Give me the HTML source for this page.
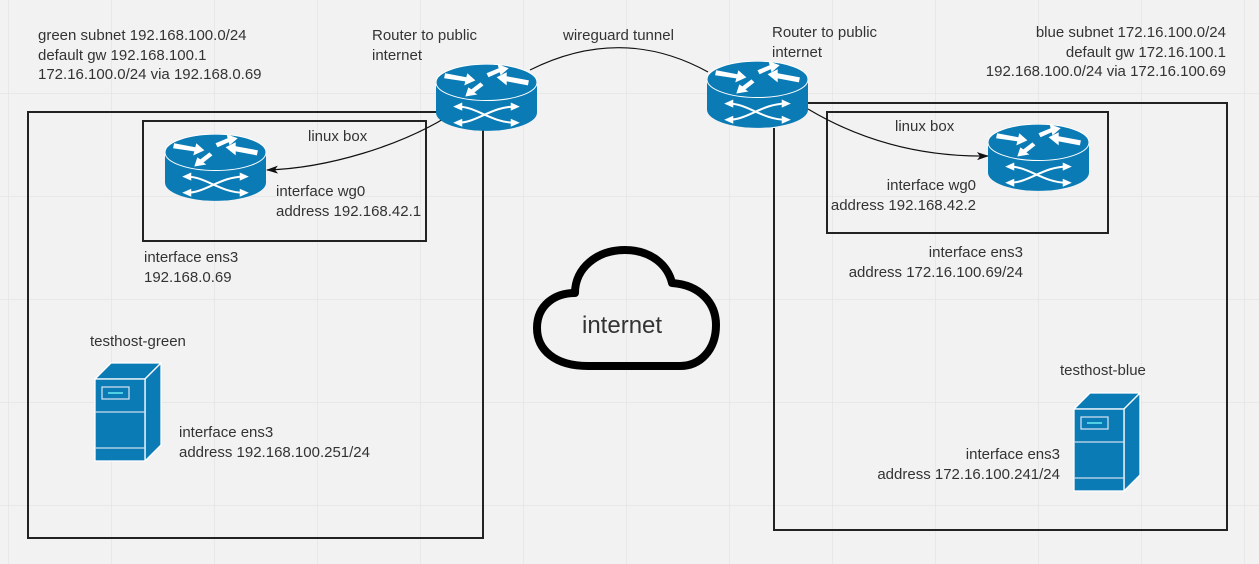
<!DOCTYPE html>
<html><head><meta charset="utf-8"><style>
html,body{margin:0;padding:0}
body{width:1259px;height:564px;overflow:hidden;background:#f2f2f2;position:relative;font-family:"Liberation Sans",sans-serif;color:#333;font-size:15px}
.t{position:absolute;line-height:19.5px;white-space:nowrap}
.r{text-align:right}
svg{position:absolute;left:0;top:0}
</style></head><body>
<svg width="1259" height="564" viewBox="0 0 1259 564">
<defs>
<pattern id="grid" x="8" y="-10" width="103" height="103" patternUnits="userSpaceOnUse">
<path d="M0 0V103M0 0H103" stroke="#e4e4e4" stroke-width="1.5" fill="none"/>
</pattern>
<symbol id="router" viewBox="0 0 100 66">
<path d="M0 18V48A50 18 0 0 0 100 48V18Z" fill="#0a7bb5"/>
<ellipse cx="50" cy="18" rx="50" ry="18" fill="#0a7bb5" stroke="#fff" stroke-width="1"/>
<g fill="#fff">
<path d="M9 9L30 13L31 9L39 16L28 21L29 17L8 14Z"/>
<path d="M50 9L62 4L61 0L72 4L64 11L63 8L52 13Z"/>
<path d="M91 21L70 17L70 21L60 13L70 8L70 12L92 16Z"/>
<path d="M47 21L38 28L41 30L29 32L32 23L35 25L44 18Z"/>
</g>
<g stroke="#fff" stroke-width="2" fill="none">
<path d="M22 42C40 42 55 58 78 58M22 58C40 58 55 42 78 42"/>
</g>
<g fill="#fff">
<path d="M17 42L26 38V46Z"/><path d="M83 42L74 38V46Z"/>
<path d="M17 58L26 54V62Z"/><path d="M83 58L74 54V62Z"/>
</g>
</symbol>
<symbol id="server" viewBox="0 0 68 100">
<path d="M1 17L17 1H67L51 17Z" fill="#0a7bb5" stroke="#fff" stroke-width="1.3"/>
<path d="M51 17L67 1V83L51 99Z" fill="#0a7bb5" stroke="#fff" stroke-width="1.3"/>
<rect x="1" y="17" width="50" height="82" fill="#0a7bb5" stroke="#fff" stroke-width="1.3"/>
<rect x="8" y="25" width="27" height="12" fill="none" stroke="#cde" stroke-width="1.3"/>
<path d="M14 31H29" stroke="#7ff" stroke-width="1.3"/>
<path d="M1 50H51M1 86H51" stroke="#cde" stroke-width="1.3"/>
</symbol>
<marker id="ah" markerWidth="12" markerHeight="8" refX="11" refY="4" orient="auto" markerUnits="userSpaceOnUse">
<path d="M0 0L12 4L0 8L3 4Z" fill="#111"/>
</marker>
</defs>
<rect width="1259" height="564" fill="url(#grid)"/>
<path d="M437 112H28V538H483V130" fill="none" stroke="#222" stroke-width="2"/>
<rect x="143" y="121" width="283" height="120" fill="none" stroke="#222" stroke-width="2"/>
<path d="M807 103H1227V530H774V128" fill="none" stroke="#222" stroke-width="2"/>
<rect x="827" y="112" width="281" height="121" fill="none" stroke="#222" stroke-width="2"/>
<path d="M530 70C590 40 650 40 708 72" fill="none" stroke="#111" stroke-width="1.2"/>
<path d="M445 118C400 145 330 168 267 170" fill="none" stroke="#111" stroke-width="1.2" marker-end="url(#ah)"/>
<path d="M808 109C860 140 920 157 988 156" fill="none" stroke="#111" stroke-width="1.2" marker-end="url(#ah)"/>
<use href="#router" x="436" y="64" width="101" height="67"/>
<use href="#router" x="707" y="61" width="101" height="67"/>
<use href="#router" x="165" y="134" width="101" height="67"/>
<use href="#router" x="988" y="124" width="101" height="67"/>
<use href="#server" x="94" y="362" width="68" height="100"/>
<use href="#server" x="1073" y="392" width="68" height="100"/>
<path d="M588 366C555 366 537 350 537 328C537 305 555 293 575 293C575 268 597 250 625 250C652 250 668 266 672 283C700 285 716 303 716 325C716 350 700 366 680 366Z" fill="none" stroke="#000" stroke-width="8" stroke-linejoin="round"/>
</svg>
<div class="t" style="left:38px;top:26px">green subnet 192.168.100.0/24<br>default gw 192.168.100.1<br>172.16.100.0/24 via 192.168.0.69</div>
<div class="t" style="left:372px;top:26px">Router to public<br>internet</div>
<div class="t" style="left:563px;top:26px">wireguard tunnel</div>
<div class="t" style="left:772px;top:23px">Router to public<br>internet</div>
<div class="t r" style="right:33px;top:23px">blue subnet 172.16.100.0/24<br>default gw 172.16.100.1<br>192.168.100.0/24 via 172.16.100.69</div>
<div class="t" style="left:308px;top:127px">linux box</div>
<div class="t" style="left:276px;top:182px">interface wg0<br>address 192.168.42.1</div>
<div class="t" style="left:144px;top:248px">interface ens3<br>192.168.0.69</div>
<div class="t" style="left:90px;top:332px">testhost-green</div>
<div class="t" style="left:179px;top:423px">interface ens3<br>address 192.168.100.251/24</div>
<div class="t" style="left:895px;top:117px">linux box</div>
<div class="t r" style="right:283px;top:176px">interface wg0<br>address 192.168.42.2</div>
<div class="t r" style="right:236px;top:243px">interface ens3<br>address 172.16.100.69/24</div>
<div class="t" style="left:1060px;top:361px">testhost-blue</div>
<div class="t r" style="right:199px;top:445px">interface ens3<br>address 172.16.100.241/24</div>
<div class="t" style="left:582px;top:311px;font-size:24px;line-height:30px">internet</div>
</body></html>
